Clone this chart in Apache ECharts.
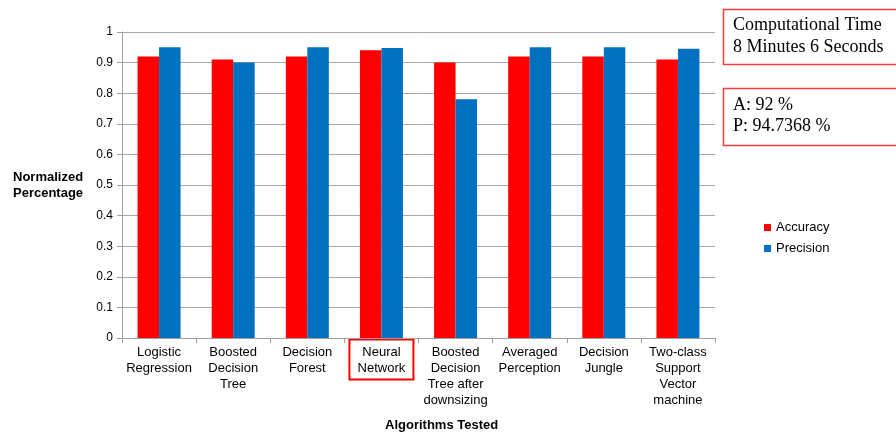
<!DOCTYPE html>
<html>
<head>
<meta charset="utf-8">
<script src="https://cdn.jsdelivr.net/npm/echarts@6/dist/echarts.min.js"></script>
<style>html,body{margin:0;padding:0;background:#fff;}#c{width:896px;height:437px;}</style>
</head>
<body>
<div id="c"></div>
<script>
var categories = ['Logistic\nRegression', 'Boosted\nDecision\nTree', 'Decision\nForest', 'Neural\nNetwork',
  'Boosted\nDecision\nTree after\ndownsizing', 'Averaged\nPerception', 'Decision\nJungle', 'Two-class\nSupport\nVector\nmachine'];
var accuracy = [0.92, 0.91, 0.92, 0.94, 0.90, 0.92, 0.92, 0.91];
var precision = [0.95, 0.90, 0.95, 0.9474, 0.78, 0.95, 0.95, 0.945];
var highlighted = 'Neural\nNetwork';
var yTicks = [0, 0.1, 0.2, 0.3, 0.4, 0.5, 0.6, 0.7, 0.8, 0.9, 1];

var chart = echarts.init(document.getElementById('c'), null, {renderer: 'canvas'});
var font = 'Liberation Sans, Arial, sans-serif';
var serif = 'Liberation Serif, Times New Roman, serif';

chart.setOption({
  animation: false,
  grid: {left: 122, right: 181, top: 32, bottom: 99, containLabel: false},
  legend: {
    orient: 'vertical', left: 759, top: 216, icon: 'rect', itemWidth: 7, itemHeight: 7, itemGap: 8,
    textStyle: {fontFamily: font, fontSize: 13, color: '#000'},
    data: ['Accuracy', 'Precision']
  },
  xAxis: {
    type: 'category', data: categories,
    axisLine: {lineStyle: {color: '#a0a0a0'}},
    axisTick: {show: true, length: 5, lineStyle: {color: '#a0a0a0'}},
    axisLabel: {interval: 0, fontFamily: font, fontSize: 13, lineHeight: 16, color: '#000', margin: 6}
  },
  yAxis: {
    type: 'value', min: 0, max: 1, interval: 0.1,
    axisLine: {show: true, lineStyle: {color: '#a0a0a0'}},
    axisTick: {show: true, length: 5, lineStyle: {color: '#a0a0a0'}},
    splitLine: {lineStyle: {color: '#a8a8a8'}},
    axisLabel: {fontFamily: font, fontSize: 12, color: '#000', margin: 9,
      formatter: function (v) {
        var r = Math.round(v * 10) / 10;
        return (r === 0 || r === 1) ? String(r) : r.toFixed(1);
      }}
  },
  series: [
    {name: 'Accuracy', type: 'bar', data: accuracy, barGap: '0%', barCategoryGap: '42%',
      itemStyle: {color: '#ff0000'}},
    {name: 'Precision', type: 'bar', data: precision, barGap: '0%', barCategoryGap: '42%',
      itemStyle: {color: '#0070c0'}}
  ]
});

// Highlight box around the highlighted category label, positioned via the axis scale
var idx = categories.indexOf(highlighted);
var p = chart.convertToPixel({gridIndex: 0}, [idx, 0]);
chart.setOption({
  graphic: [
    {id: 'yname', type: 'text', left: 13, top: 169, style: {text: 'Normalized\nPercentage', font: 'bold 13px ' + font, fill: '#000', lineHeight: 16}},
    {id: 'xname', type: 'text', top: 419, left: 385, style: {text: 'Algorithms Tested', font: 'bold 13px ' + font, fill: '#000'}},
    {id: 'box1', type: 'rect', shape: {x: 723.5, y: 9.5, width: 190, height: 55}, style: {fill: '#fff', stroke: '#ff3b3b', lineWidth: 1.5}},
    {id: 'txt1', type: 'text', left: 733, top: 14, style: {text: 'Computational Time\n8 Minutes 6 Seconds', font: '18px ' + serif, fill: '#000', lineHeight: 22}},
    {id: 'box2', type: 'rect', shape: {x: 723.5, y: 88.5, width: 190, height: 57}, style: {fill: '#fff', stroke: '#ff3b3b', lineWidth: 1.5}},
    {id: 'txt2', type: 'text', left: 733, top: 95, style: {text: 'A: 92 %\nP: 94.7368 %', font: '18px ' + serif, fill: '#000', lineHeight: 21}},
    {id: 'hl', type: 'rect', shape: {x: p[0] - 32, y: p[1] + 1.5, width: 64, height: 40},
      style: {fill: 'none', stroke: '#ff0000', lineWidth: 2}}
  ]
});
</script>
</body>
</html>
